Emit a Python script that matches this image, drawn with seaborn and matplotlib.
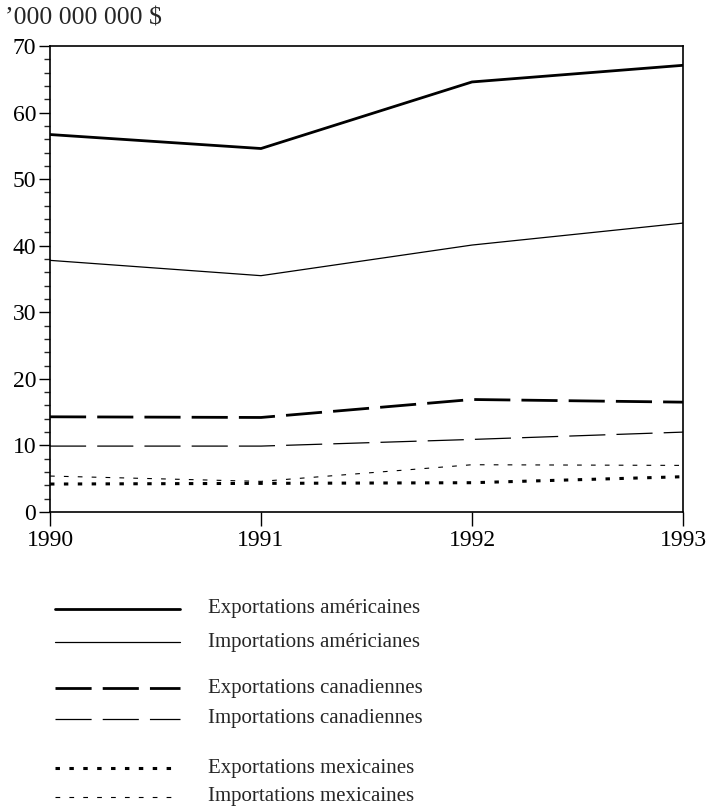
import matplotlib
matplotlib.use("Agg")
import matplotlib.pyplot as plt
from matplotlib.lines import Line2D
from matplotlib.ticker import MultipleLocator
import seaborn as sns
import pandas as pd

years = [1990, 1991, 1992, 1993]
us_exports = [56.7, 54.6, 64.6, 67.1]
us_imports = [37.8, 35.5, 40.1, 43.4]
can_exports = [14.3, 14.2, 16.9, 16.5]
can_imports = [9.9, 9.9, 10.9, 12.0]
mex_exports = [4.2, 4.3, 4.4, 5.3]
mex_imports = [5.4, 4.6, 7.1, 7.0]

labels = ["Exportations américaines", "Importations américianes",
          "Exportations canadiennes", "Importations canadiennes",
          "Exportations mexicaines", "Importations mexicaines"]
y_label = "’000 000 000 $"

sns.set_style("ticks")
plt.rcParams["font.family"] = ["Liberation Serif", "DejaVu Serif"]
plt.rcParams["lines.scale_dashes"] = False

fig = plt.figure(figsize=(7.08, 8.07), dpi=100)
W, H = 708, 807
ax = fig.add_axes([50 / W, 1 - 512 / H, (683 - 50) / W, (512 - 46) / H])

series = [us_exports, us_imports, can_exports, can_imports, mex_exports, mex_imports]
styles = [
    dict(linewidth=2.0, linestyle="-"),
    dict(linewidth=0.9, linestyle="-"),
    dict(linewidth=2.0, linestyle=(0, (26, 8))),
    dict(linewidth=0.9, linestyle=(0, (26, 8))),
    dict(linewidth=2.2, linestyle=(0, (3.2, 6.8))),
    dict(linewidth=0.8, linestyle=(0, (3.4, 6.6))),
]

for vals, lab, st in zip(series, labels, styles):
    df = pd.DataFrame({"year": years, "value": vals})
    sns.lineplot(data=df, x="year", y="value", ax=ax, color="black",
                 label=lab, legend=False, **st)

ax.set_xlim(1990, 1993)
ax.set_ylim(0, 70)
ax.set_xticks(years)
ax.set_xticklabels([str(y) for y in years])
ax.yaxis.set_major_locator(MultipleLocator(10))
ax.yaxis.set_minor_locator(MultipleLocator(2))
ax.set_xlabel("")
ax.set_ylabel("")
for s in ax.spines.values():
    s.set_visible(True)
    s.set_linewidth(1.2)
    s.set_color("black")
ax.tick_params(axis="y", which="major", length=8, width=1.0, direction="out",
               labelsize=17, pad=2, colors="black")
ax.tick_params(axis="y", which="minor", length=4, width=1.0, direction="out")
ax.tick_params(axis="x", which="major", length=10, width=1.0, direction="out",
               labelsize=17, pad=3, colors="black")
ax.grid(False)

fig.text(5 / W, 1 - 18 / H, y_label, ha="left", va="center", fontsize=18.5)

# legend
rows = [609, 642, 688, 719, 768, 797]
for (y, lab, st) in zip(rows, labels, styles):
    yf = 1 - y / H
    fig.add_artist(Line2D([55 / W, 180 / W], [yf, yf], color="black",
                          transform=fig.transFigure, **st))
    fig.text(208 / W, yf, lab, ha="left", va="center", fontsize=15)

fig.savefig("out.png", dpi=100)
